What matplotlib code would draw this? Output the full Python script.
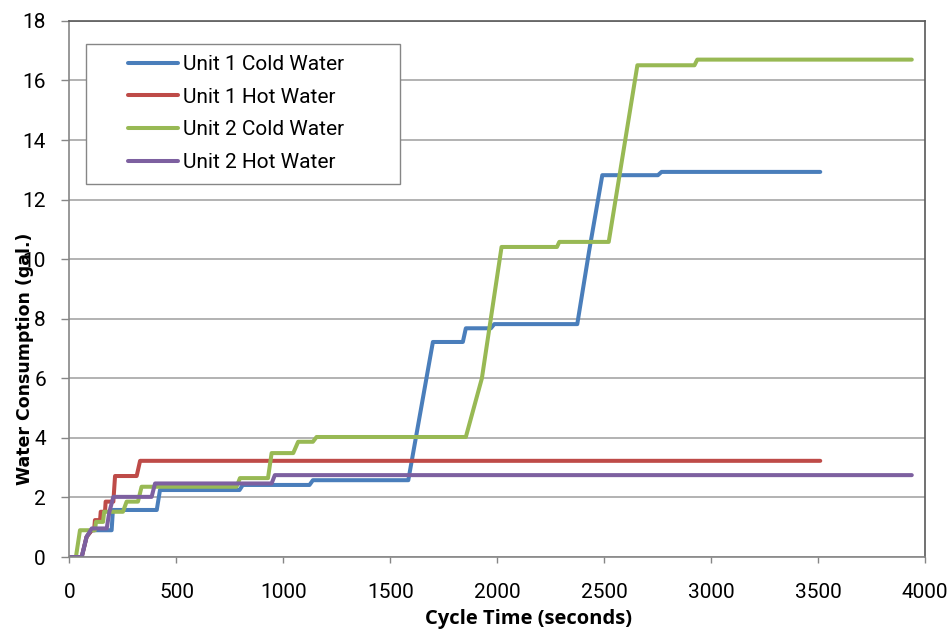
import matplotlib.pyplot as plt
from matplotlib.patches import Rectangle

# cumulative water use (seconds, gallons)
u1_cold_t = [0, 57, 80, 104, 127, 197, 203, 408, 423, 795, 810, 1122, 1138, 1584, 1699,
             1839, 1853, 1970, 1986, 2374, 2430, 2491, 2751, 2768, 3510]
u1_cold_w = [0, 0, 0.68, 0.9, 0.9, 0.9, 1.58, 1.58, 2.25, 2.25, 2.42, 2.42, 2.58, 2.58, 7.22,
             7.22, 7.68, 7.68, 7.82, 7.82, 10.3, 12.82, 12.82, 12.93, 12.93]

u1_hot_t = [0, 57, 80, 104, 115, 119, 143, 146, 166, 169, 205, 213, 314, 330, 3510]
u1_hot_w = [0, 0, 0.68, 0.9, 0.9, 1.24, 1.24, 1.52, 1.52, 1.86, 1.86, 2.72, 2.72, 3.23, 3.23]

u2_cold_t = [0, 30, 49, 119, 124, 157, 162, 250, 267, 320, 337, 781, 797, 928, 945, 1046,
             1069, 1138, 1155, 1853, 1928, 2020, 2279, 2290, 2521, 2655, 2922, 2935, 3938]
u2_cold_w = [0, 0, 0.9, 0.9, 1.18, 1.18, 1.52, 1.52, 1.86, 1.86, 2.36, 2.36, 2.65, 2.65, 3.49,
             3.49, 3.87, 3.87, 4.03, 4.03, 6.0, 10.41, 10.41, 10.58, 10.58, 16.51, 16.51,
             16.7, 16.7]

u2_hot_t = [0, 57, 80, 104, 174, 186, 205, 384, 400, 945, 960, 3938]
u2_hot_w = [0, 0, 0.68, 0.96, 0.96, 1.5, 2.02, 2.02, 2.47, 2.47, 2.75, 2.75]

names = ["Unit 1 Cold Water", "Unit 1 Hot Water", "Unit 2 Cold Water", "Unit 2 Hot Water"]
colors = ["#4a7ebb", "#be4b48", "#98b954", "#7d60a0"]

plt.rcParams["font.family"] = ["Roboto", "DejaVu Sans"]

fig = plt.figure(figsize=(9.52, 6.33), dpi=100)
ax = fig.add_axes([0.073, 0.120, 0.8987, 0.847])

series = [(u1_cold_t, u1_cold_w), (u1_hot_t, u1_hot_w),
          (u2_cold_t, u2_cold_w), (u2_hot_t, u2_hot_w)]
for (t, w), name, c in zip(series, names, colors):
    ax.plot(t, w, color=c, lw=2.9, label=name, solid_joinstyle="round",
            solid_capstyle="round")

ax.set_xlim(0, 4000)
ax.set_ylim(0, 18)
ax.set_xticks(range(0, 4001, 500))
ax.set_yticks(range(0, 19, 2))
ax.yaxis.grid(True, color="#a6a6a6", lw=1.2)
ax.set_axisbelow(True)
for s in ax.spines.values():
    s.set_color("#595959")
    s.set_linewidth(1.2)
ax.spines["left"].set_color("#868686")
ax.spines["bottom"].set_color("#868686")
ax.tick_params(axis="both", labelsize=15, color="#868686", width=1)
ax.tick_params(axis="x", pad=14, length=4.5)
ax.tick_params(axis="y", pad=11, length=6)

ax.set_xlabel("Cycle Time (seconds)", fontsize=14.5, fontweight="bold",
              family="Open Sans")
ax.xaxis.set_label_coords(0.536, -0.097)
# the reference label sits low and runs over the "10" tick label
ax.set_ylabel("Water Consumption (gal.)", fontsize=12.5, fontweight="bold",
              family="DejaVu Sans")
ax.yaxis.set_label_coords(-0.042, 0.369)

# legend box drawn separately: the reference has a wide left margin
box = Rectangle((0.0193, 0.696), 0.367, 0.261, transform=ax.transAxes,
                facecolor="white", edgecolor="#868686", lw=1.0, zorder=4)
ax.add_patch(box)
leg = ax.legend(loc="upper left", bbox_to_anchor=(0.0684, 0.936), fontsize=15,
                frameon=False, handlelength=2.4, handletextpad=0.24,
                borderpad=0, labelspacing=0.65, borderaxespad=0)
leg.set_zorder(5)

fig.savefig("out.png", dpi=100)
